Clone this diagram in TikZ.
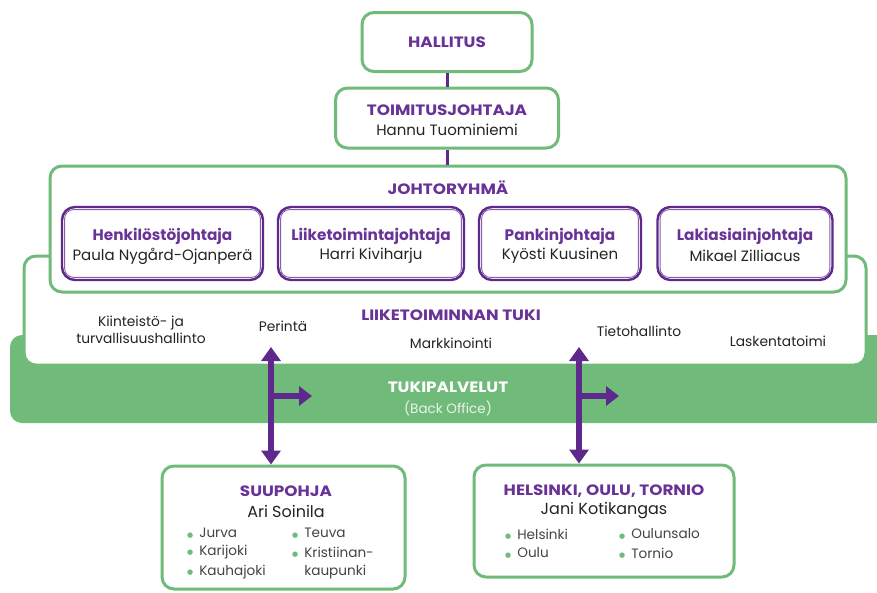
\documentclass[tikz,border=0pt]{standalone}
\usepackage{fontspec}
\setmainfont{Poppins}
\newfontfamily\dvfont{DejaVu Sans}
\usetikzlibrary{arrows.meta}
\definecolor{grn}{RGB}{112,186,122}
\definecolor{prp}{RGB}{95,40,140}
\definecolor{ttxt}{RGB}{105,50,150}
\definecolor{btxt}{RGB}{35,35,35}
\newcommand{\wide}[1]{\scalebox{1.12}[1]{#1}}
\newcommand{\bul}{\textcolor{grn}{\raisebox{0.5pt}{\dvfont\fontsize{7}{7}\selectfont ●}}\hspace{6pt}}
\begin{document}
\begin{tikzpicture}[x=1pt,y=-1pt,
 gbox/.style={draw=grn, line width=3pt, rounded corners=12pt, fill=white, inner sep=0pt, align=center},
 pbox/.style={draw=prp, line width=2.4pt, rounded corners=13pt, fill=white, inner sep=0pt, align=center},
 pinner/.style={draw=prp!75, line width=0.9pt, rounded corners=9pt},
 ttl/.style={font=\bfseries\fontsize{15}{17}\selectfont, text=ttxt},
 ttlb/.style={font=\bfseries\fontsize{15.3}{17}\selectfont, text=ttxt},
 lbl/.style={font=\fontsize{13.8}{17}\selectfont, text=btxt, align=center},
 pname/.style={font=\fontsize{15}{17}\selectfont, text=btxt, align=center},
 item/.style={font=\fontsize{13.6}{15}\selectfont, text=btxt!85, anchor=west, inner sep=0pt},
 conn/.style={draw=prp, line width=3pt},
 varr/.style={draw=prp, line width=6.5pt, {Triangle[width=19pt,length=14pt]}-{Triangle[width=19pt,length=14pt]}},
 harr/.style={draw=prp, line width=6.5pt, -{Triangle[width=19pt,length=13pt]}},
]
\useasboundingbox (0,0) rectangle (877,592);
\fill[white] (0,0) rectangle (877,592);
% green band
\fill[grn, rounded corners=12pt] (10,335) rectangle (900,423);
\node[font=\bfseries\fontsize{15}{17}\selectfont, text=white] (tuki) at (448,387) {\wide{TUKIPALVELUT}};
\node[font=\fontsize{13.5}{15}\selectfont, text=white!85!grn] (bo) at (448,408) {(Back Office)};
% liiketoiminnan tuki box
\draw[draw=grn, line width=3pt, rounded corners=12pt, fill=white] (24,256) rectangle (866,365);
\node[ttl] (lt) at (451,315) {\wide{LIIKETOIMINNAN TUKI}};
\node[lbl] (kt) at (141,330) {Kiinteistö- ja\\turvallisuushallinto};
\node[lbl] (per) at (283,326) {Perintä};
\node[lbl] (mk) at (451,343) {Markkinointi};
\node[lbl] (th) at (639,331) {Tietohallinto};
\node[lbl] (lk) at (778,341) {Laskentatoimi};
% johtoryhma
\draw[draw=grn, line width=3pt, rounded corners=12pt, fill=white] (50,166) rectangle (846,292);
\node[ttl] (jr) at (448,188) {\wide{JOHTORYHMÄ}};
\node[pbox, minimum width=201pt, minimum height=73pt] (p1) at (162.5,243.5) {};
\node[pbox, minimum width=186pt, minimum height=73pt] (p2) at (371,243.5) {};
\node[pbox, minimum width=162pt, minimum height=73pt] (p3) at (560,243.5) {};
\node[pbox, minimum width=175pt, minimum height=73pt] (p4) at (745,243.5) {};
\foreach \n/\t/\s in {p1/Henkilöstöjohtaja/Paula Nygård-Ojanperä, p2/Liiketoimintajohtaja/Harri Kiviharju, p3/Pankinjohtaja/Kyösti Kuusinen, p4/Lakiasiainjohtaja/Mikael Zilliacus}{
  \draw[pinner] ([shift={(3.8pt,3.8pt)}]\n.south west) rectangle ([shift={(-3.8pt,-3.8pt)}]\n.north east);
  \node[ttlb] (\n t) at ([yshift=7.5pt]\n.center) {\t};
  \node[pname] (\n s) at ([yshift=-12.5pt]\n.center) {\s};
}
% top boxes
\node[gbox, minimum width=170pt, minimum height=59pt] (hal) at (447,42) {};
\node[ttl] (halt) at (hal.center) {\wide{HALLITUS}};
\node[gbox, minimum width=223pt, minimum height=60pt] (toim) at (447,118) {};
\node[ttl] (toimt) at (447,110) {\wide{TOIMITUSJOHTAJA}};
\node[pname] (toims) at (447,130) {Hannu Tuominiemi};
\coordinate (jrtop) at (447,165);
\draw[conn] (hal.south) -- (toim.north);
\draw[conn] (toim.south) -- (jrtop);
% bottom boxes
\node[gbox, minimum width=243pt, minimum height=123pt] (suu) at (283.5,527.5) {};
\node[ttl] (suut) at (286,491) {\wide{SUUPOHJA}};
\node[pname, font=\fontsize{16}{18}\selectfont] (suus) at (286,511) {Ari Soinila};
\node[gbox, minimum width=260pt, minimum height=112pt] (hel) at (604,521) {};
\node[ttl] (helt) at (604,491) {\wide{HELSINKI, OULU, TORNIO}};
\node[pname, font=\fontsize{16}{18}\selectfont] (hels) at (604,511) {Jani Kotikangas};
\node[item] (i1) at (187,533) {\bul Jurva};
\node[item] (i2) at (187,552) {\bul Karijoki};
\node[item] (i3) at (187,572) {\bul Kauhajoki};
\node[item] (i4) at (292,533) {\bul Teuva};
\node[item] (i5) at (292,552) {\bul Kristiinan-};
\node[item] (i6) at (292,572) {\phantom{\bul}kaupunki};
\node[item] (j1) at (505,534) {\bul Helsinki};
\node[item] (j2) at (505,553) {\bul Oulu};
\node[item] (j3) at (619,534) {\bul Oulunsalo};
\node[item] (j4) at (619,553) {\bul Tornio};
% arrows
\coordinate (a1top) at (271,347);
\coordinate (a1mid) at (271,396);
\coordinate (a1end) at (312,396);
\coordinate (a2top) at (579,347);
\coordinate (a2mid) at (579,396);
\coordinate (a2end) at (619,396);
\draw[varr] (a1top) -- (suu.north -| a1top);
\draw[harr] ([xshift=-3pt]a1mid) -- (a1end);
\draw[varr] (a2top) -- (hel.north -| a2top);
\draw[harr] ([xshift=-3pt]a2mid) -- (a2end);
\end{tikzpicture}
\end{document}
